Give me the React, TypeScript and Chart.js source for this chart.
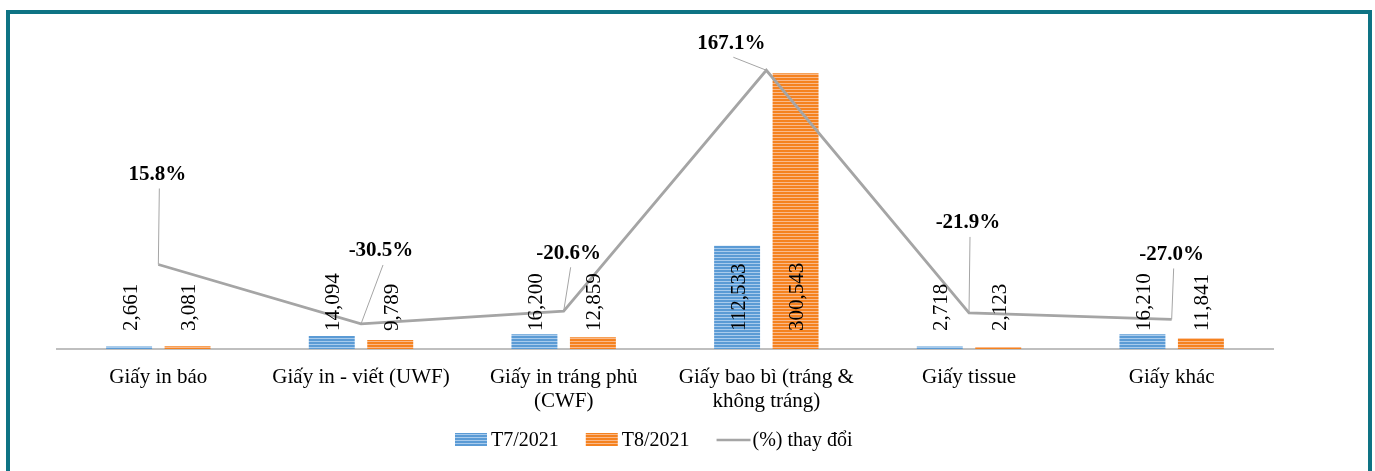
import React, { useEffect, useRef } from "react";
import { Chart, registerables } from "chart.js";

Chart.register(...registerables);

const categories: (string | string[])[] = [
  "Giấy in báo",
  "Giấy in - viết (UWF)",
  ["Giấy in tráng phủ", "(CWF)"],
  ["Giấy bao bì (tráng &", "không tráng)"],
  "Giấy tissue",
  "Giấy khác",
];
const t7Values = [2661, 14094, 16200, 112533, 2718, 16210];
const t8Values = [3081, 9789, 12859, 300543, 2123, 11841];
const pctChange = [15.8, -30.5, -20.6, 167.1, -21.9, -27.0];
const seriesNames = ["T7/2021", "T8/2021", "(%) thay đổi"];

// label offsets (layout only): label centre relative to line point
const pctLabelOffsets = [
  [-1, -90],
  [20, -73],
  [5, -58],
  [-35, -27],
  [-1, -90],
  [0, -65],
];

const FONT = "'Liberation Serif', 'Times New Roman', serif";
const BLUE = "#5B9BD5";
const BLUE_L = "#A9CBEC";
const ORANGE = "#F5821F";
const ORANGE_L = "#F9B98A";
const GRAY = "#A5A5A5";

function makePattern(base: string, light: string): CanvasPattern | string {
  const c = document.createElement("canvas");
  c.width = 4;
  c.height = 3;
  const x = c.getContext("2d");
  if (!x) return base;
  x.fillStyle = base;
  x.fillRect(0, 0, 4, 3);
  x.fillStyle = light;
  x.fillRect(0, 2, 4, 1);
  const p = x.createPattern(c, "repeat");
  return p || base;
}

export default function App() {
  const ref = useRef<HTMLCanvasElement | null>(null);

  useEffect(() => {
    if (!ref.current) return;
    const bluePat = makePattern(BLUE, BLUE_L);
    const orangePat = makePattern(ORANGE, ORANGE_L);

    const overlay = {
      id: "overlay",
      afterDatasetsDraw(chart: any) {
        const ctx = chart.ctx as CanvasRenderingContext2D;
        const area = chart.chartArea;
        // value labels (rotated)
        ctx.save();
        ctx.fillStyle = "#000";
        ctx.font = `21px ${FONT}`;
        [0, 1].forEach((di) => {
          const meta = chart.getDatasetMeta(di);
          const vals = di === 0 ? t7Values : t8Values;
          meta.data.forEach((bar: any, i: number) => {
            ctx.save();
            ctx.translate(bar.x + 2, area.bottom - 18);
            ctx.rotate(-Math.PI / 2);
            ctx.textAlign = "left";
            ctx.textBaseline = "middle";
            ctx.fillText(vals[i].toLocaleString("en-US"), 0, 0);
            ctx.restore();
          });
        });
        ctx.restore();

        // percentage labels + leaders
        const lmeta = chart.getDatasetMeta(2);
        ctx.save();
        lmeta.data.forEach((pt: any, i: number) => {
          const [dx, dy] = pctLabelOffsets[i];
          const lx = pt.x + dx;
          const ly = pt.y + dy;
          ctx.strokeStyle = GRAY;
          ctx.lineWidth = 1;
          ctx.beginPath();
          ctx.moveTo(lx + 2, ly + 14);
          ctx.lineTo(pt.x, pt.y);
          ctx.stroke();
          ctx.fillStyle = "#000";
          ctx.font = `bold 21px ${FONT}`;
          ctx.textAlign = "center";
          ctx.textBaseline = "middle";
          ctx.fillText(`${pctChange[i].toFixed(1)}%`, lx, ly);
        });
        ctx.restore();
      },
      afterDraw(chart: any) {
        const ctx = chart.ctx as CanvasRenderingContext2D;
        ctx.save();
        ctx.font = `20px ${FONT}`;
        ctx.textBaseline = "middle";
        ctx.textAlign = "left";
        const y = 440;
        let x = 455;
        const fills = [bluePat, orangePat];
        seriesNames.forEach((name, i) => {
          if (i < 2) {
            ctx.fillStyle = fills[i] as any;
            ctx.fillRect(x, y - 7, 32, 13);
            x += 36;
          } else {
            ctx.strokeStyle = GRAY;
            ctx.lineWidth = 2.5;
            ctx.beginPath();
            ctx.moveTo(x, y);
            ctx.lineTo(x + 34, y);
            ctx.stroke();
            x += 36;
          }
          ctx.fillStyle = "#000";
          ctx.fillText(name, x, y + 1);
          x += ctx.measureText(name).width + 27;
        });
        ctx.restore();
      },
    };

    const chart = new Chart(ref.current, {
      type: "bar",
      data: {
        labels: categories as any,
        datasets: [
          {
            type: "bar",
            label: seriesNames[0],
            data: t7Values,
            backgroundColor: bluePat as any,
            yAxisID: "y",
            order: 1,
            categoryPercentage: 0.577,
            barPercentage: 0.786,
          },
          {
            type: "bar",
            label: seriesNames[1],
            data: t8Values,
            backgroundColor: orangePat as any,
            yAxisID: "y",
            order: 1,
            categoryPercentage: 0.577,
            barPercentage: 0.786,
          },
          {
            type: "line",
            label: seriesNames[2],
            data: pctChange,
            borderColor: GRAY,
            borderWidth: 2.8,
            pointRadius: 0,
            yAxisID: "y2",
            order: 0,
            tension: 0,
          } as any,
        ],
      },
      options: {
        responsive: false,
        animation: false,
        devicePixelRatio: 1,
        layout: { padding: { left: 57, right: 102, top: 28, bottom: 0 } },
        plugins: {
          legend: { display: false },
          tooltip: { enabled: false },
        },
        scales: {
          x: {
            grid: { display: false },
            border: { display: true, color: "#BFBFBF", width: 2 },
            ticks: {
              color: "#000",
              font: { family: FONT, size: 21, lineHeight: 1.15 },
              padding: 8,
              maxRotation: 0,
              autoSkip: false,
            },
            afterFit: (scale: any) => {
              scale.height = 122;
            },
          },
          y: {
            display: false,
            min: 0,
            max: 350000,
          },
          y2: {
            display: false,
            position: "right",
            min: -50,
            max: 200,
          },
        },
      },
      plugins: [overlay],
    });
    return () => chart.destroy();
  }, []);

  return (
    <div
      style={{
        position: "absolute",
        left: 0,
        top: 0,
        width: 1375,
        height: 471,
        overflow: "hidden",
        background: "#fff",
      }}
    >
      <canvas
        ref={ref}
        width={1375}
        height={471}
        style={{ position: "absolute", left: 0, top: 0, width: 1375, height: 471 }}
      />
      <div
        style={{
          position: "absolute",
          left: 6,
          top: 10,
          width: 1366,
          height: 500,
          boxSizing: "border-box",
          border: "4px solid #0E7384",
          pointerEvents: "none",
        }}
      />
    </div>
  );
}
